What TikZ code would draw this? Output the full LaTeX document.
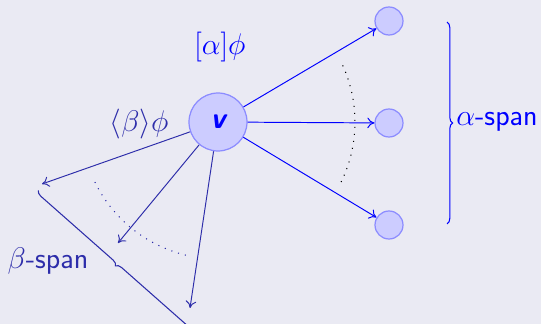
\RequirePackage{fix-cm}
\documentclass[tikz,border=0pt]{standalone}
\usepackage{fontspec}
\usetikzlibrary{arrows.meta,decorations.pathreplacing}
\definecolor{bg}{RGB}{234,234,243}
\definecolor{struct}{RGB}{45,45,170}
\definecolor{nodefill}{RGB}{204,204,255}
\definecolor{nodedraw}{RGB}{140,140,255}
\tikzset{
  bignode/.style={circle, draw=nodedraw, fill=nodefill, line width=0.7pt, inner sep=0pt, minimum size=1.16cm, text=blue, font=\fontsize{17}{20}\selectfont\sffamily\bfseries\slshape},
  smallnode/.style={circle, draw=nodedraw, fill=nodefill, line width=0.7pt, inner sep=0pt, minimum size=0.56cm},
  alphaarrow/.style={blue, line width=0.55pt, -{To[length=4pt,width=6pt]}},
  betaarrow/.style={struct, line width=0.55pt, -{To[length=4pt,width=6pt]}},
  dotline/.style={line width=0.6pt, dash pattern=on 0.6pt off 3.4pt},
  bigtext/.style={font=\fontsize{17}{20}\selectfont\sffamily, inner sep=0pt},
  bracestyle/.style={line width=0.6pt, decorate, decoration={brace, amplitude=3.2pt}}
}
\begin{document}
\begin{tikzpicture}[x=0.02cm,y=-0.02cm]
\fill[bg] (0,0) rectangle (541,324);
\useasboundingbox (0,0) rectangle (541,324);
\node[bignode] (v) at (218,122) {v};
\node[smallnode] (a1) at (389,21) {};
\node[smallnode] (a2) at (389,123) {};
\node[smallnode] (a3) at (389,225) {};
\coordinate (b1) at (42,184);
\coordinate (b2) at (118,243);
\coordinate (b3) at (190,308);
\draw[alphaarrow] (v) -- (a1);
\draw[alphaarrow] (v) -- (a2);
\draw[alphaarrow] (v) -- (a3);
\draw[betaarrow] (v) -- (b1);
\draw[betaarrow] (v) -- (b2);
\draw[betaarrow] (v) -- (b3);
\draw[dotline, black] (v.center) ++(-26:2.74cm) arc[start angle=-26, end angle=26, radius=2.74cm];
\draw[dotline, struct] (v.center) ++(206:2.74cm) arc[start angle=206, end angle=258, radius=2.74cm];
\coordinate (r1) at (447,22);
\coordinate (r2) at (447,224);
\draw[bracestyle, blue] (r1) -- (r2);
\coordinate (l1) at (200,333);
\coordinate (l2) at (38,190);
\draw[bracestyle, struct] (l1) -- (l2);
\node[bigtext, blue] (la) at (220,47) {$[\alpha]\phi$};
\node[bigtext, struct] (lb) at (139,124) {$\langle\beta\rangle\phi$};
\node[bigtext, blue, anchor=west] (as) at (456,122) {$\alpha$-span};
\node[bigtext, struct] (bs) at (48,261) {$\beta$-span};
\end{tikzpicture}
\end{document}
